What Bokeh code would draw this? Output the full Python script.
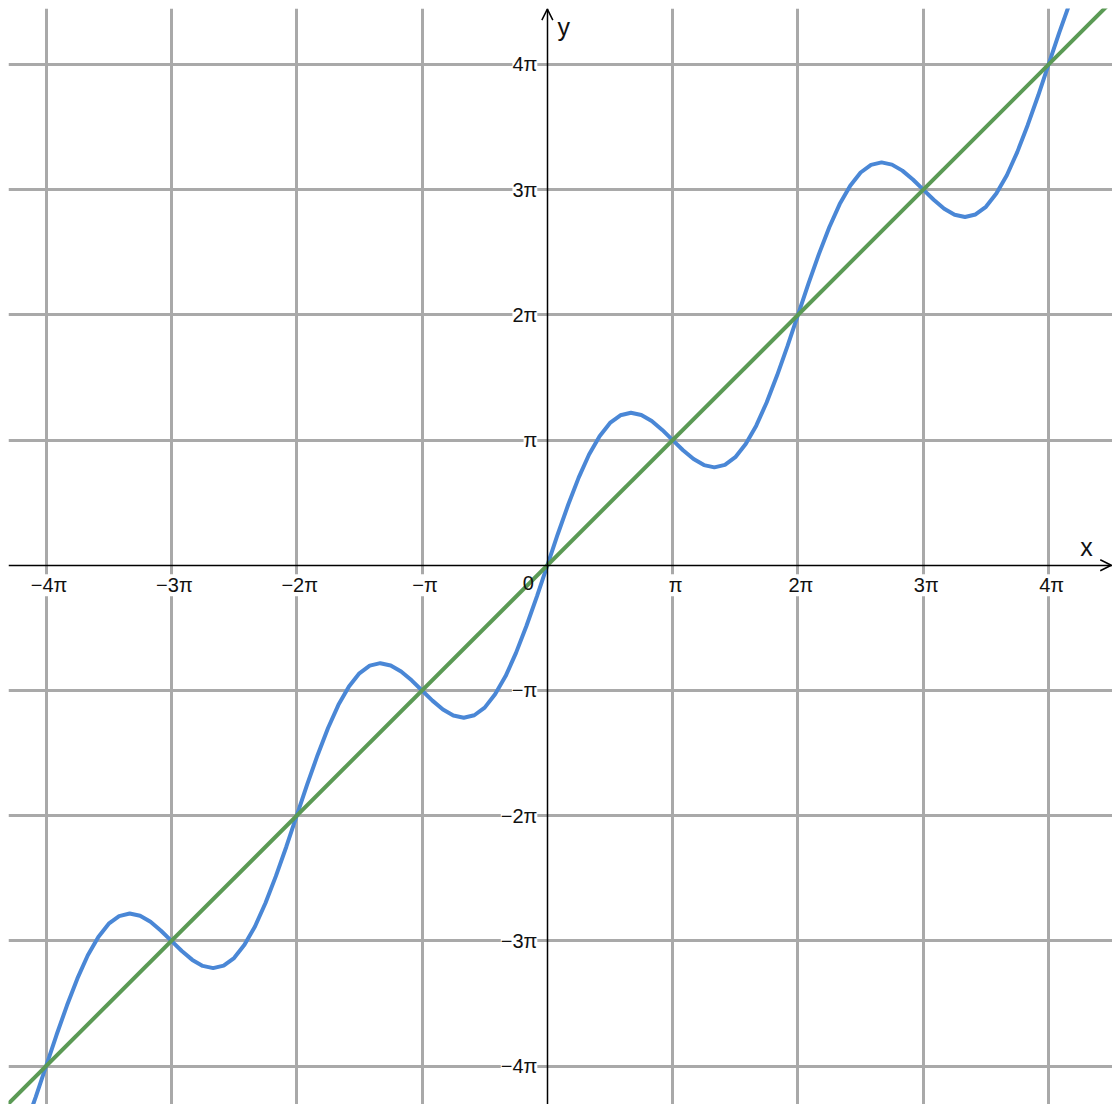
from bokeh.plotting import figure
from bokeh.models import FixedTicker, Arrow, OpenHead, Label, LabelSet, ColumnDataSource
from bokeh.core.properties import value
from bokeh.embed import file_html
from bokeh.resources import INLINE

# Data (in units of pi)
x_curve = [-4.25, -4.167, -4.083, -4.0, -3.917, -3.833, -3.75, -3.667, -3.583, -3.5, -3.417, -3.333,
           -3.25, -3.167, -3.083, -3.0, -2.917, -2.833, -2.75, -2.667, -2.583, -2.5, -2.417, -2.333,
           -2.25, -2.167, -2.083, -2.0, -1.917, -1.833, -1.75, -1.667, -1.583, -1.5, -1.417, -1.333,
           -1.25, -1.167, -1.083, -1.0, -0.917, -0.833, -0.75, -0.667, -0.583, -0.5, -0.417, -0.333,
           -0.25, -0.167, -0.083, 0.0, 0.083, 0.167, 0.25, 0.333, 0.417, 0.5, 0.583, 0.667,
           0.75, 0.833, 0.917, 1.0, 1.083, 1.167, 1.25, 1.333, 1.417, 1.5, 1.583, 1.667,
           1.75, 1.833, 1.917, 2.0, 2.083, 2.167, 2.25, 2.333, 2.417, 2.5, 2.583, 2.667,
           2.75, 2.833, 2.917, 3.0, 3.083, 3.167, 3.25, 3.333, 3.417, 3.5, 3.583, 3.667,
           3.75, 3.833, 3.917, 4.0, 4.083, 4.167, 4.25]
y_curve = [-4.700, -4.485, -4.248, -4.0, -3.752, -3.515, -3.300, -3.115, -2.969, -2.863, -2.802, -2.782,
           -2.800, -2.848, -2.919, -3.0, -3.081, -3.152, -3.200, -3.218, -3.198, -3.137, -3.031, -2.885,
           -2.700, -2.485, -2.248, -2.0, -1.752, -1.515, -1.300, -1.115, -0.969, -0.863, -0.802, -0.782,
           -0.800, -0.848, -0.919, -1.0, -1.081, -1.152, -1.200, -1.218, -1.198, -1.137, -1.031, -0.885,
           -0.700, -0.485, -0.248, 0.0, 0.248, 0.485, 0.700, 0.885, 1.031, 1.137, 1.198, 1.218,
           1.200, 1.152, 1.081, 1.0, 0.919, 0.848, 0.800, 0.782, 0.802, 0.863, 0.969, 1.115,
           1.300, 1.515, 1.752, 2.0, 2.248, 2.485, 2.700, 2.885, 3.031, 3.137, 3.198, 3.218,
           3.200, 3.152, 3.081, 3.0, 2.919, 2.848, 2.800, 2.782, 2.802, 2.863, 2.969, 3.115,
           3.300, 3.515, 3.752, 4.0, 4.248, 4.485, 4.700]
x_line = [-4.5, 4.6]
y_line = [-4.5, 4.6]

tick_values = [-4, -3, -2, -1, 1, 2, 3, 4]
tick_labels = ["\u22124\u03c0", "\u22123\u03c0", "\u22122\u03c0", "\u2212\u03c0", "\u03c0", "2\u03c0", "3\u03c0", "4\u03c0"]

X0, X1 = -4.30, 4.51
Y0, Y1 = -4.307, 4.447

FONT = "Liberation Sans"
TXT = "#111111"

p = figure(width=1112, height=1104, x_range=(X0, X1), y_range=(Y0, Y1),
           output_backend="svg", toolbar_location=None, min_border=0,
           min_border_left=8, min_border_top=8)
p.outline_line_color = None
p.background_fill_color = "white"
p.border_fill_color = "white"

for g in (p.xgrid, p.ygrid):
    g.ticker = FixedTicker(ticks=tick_values)
    g.grid_line_color = "#a9a9a9"
    g.grid_line_width = 3

for ax in (p.xaxis, p.yaxis):
    ax.fixed_location = 0
    ax.ticker = FixedTicker(ticks=[])
    ax.major_tick_in = 0
    ax.major_tick_out = 0
    ax.minor_tick_in = 0
    ax.minor_tick_out = 0
    ax.axis_line_color = "black"
    ax.axis_line_width = 1.5

p.line(x_curve, y_curve, line_color="#4a87d6", line_width=4)
p.line(x_line, y_line, line_color="#5b9a55", line_width=4)

zeros = [0] * len(tick_values)
xsrc = ColumnDataSource(dict(x=tick_values, y=zeros, t=tick_labels))
ysrc = ColumnDataSource(dict(x=zeros, y=tick_values, t=tick_labels))
p.add_layout(LabelSet(x="x", y="y", text="t", source=xsrc, x_offset=3, y_offset=-9,
                      text_align="center", text_baseline="top", text_font=value(FONT),
                      text_font_size=value("20px"), text_color=TXT, background_fill_color="white"))
p.add_layout(LabelSet(x="x", y="y", text="t", source=ysrc, x_offset=-10, y_offset=0,
                      text_align="right", text_baseline="middle", text_font=value(FONT),
                      text_font_size=value("20px"), text_color=TXT, background_fill_color="white"))

p.add_layout(Arrow(end=OpenHead(size=11, line_width=1.5, line_color="black"),
                   line_alpha=0, x_start=X1 - 0.2, y_start=0, x_end=X1 - 0.01, y_end=0))
p.add_layout(Arrow(end=OpenHead(size=11, line_width=1.5, line_color="black"),
                   line_alpha=0, x_start=0, y_start=Y1 - 0.2, x_end=0, y_end=Y1 - 0.005))

p.add_layout(Label(x=-0.152, y=0, text="0", text_font=FONT, text_font_size="20px",
                   text_align="center", text_baseline="top", y_offset=-11, text_color=TXT))
p.add_layout(Label(x=4.303, y=0, text="x", text_font=FONT, text_font_size="25px",
                   text_align="center", text_baseline="bottom", y_offset=4, text_color=TXT))
p.add_layout(Label(x=0.13, y=Y1, text="y", text_font=FONT, text_font_size="25px",
                   text_align="center", text_baseline="top", y_offset=-4, text_color=TXT))

open("out.html", "w").write(file_html(p, INLINE))
